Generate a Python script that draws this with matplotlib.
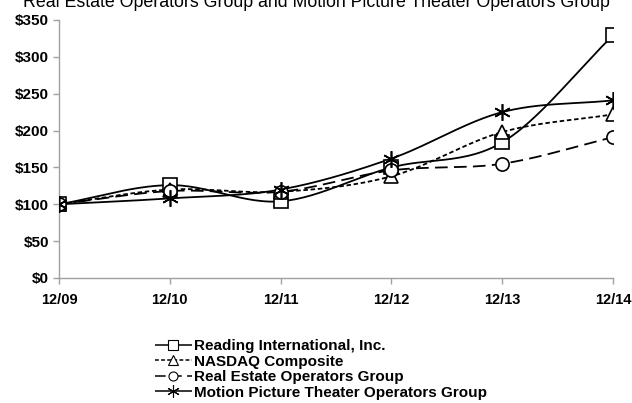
import numpy as np
import matplotlib
matplotlib.use("Agg")
import matplotlib.pyplot as plt
from matplotlib.lines import Line2D

periods = ["12/09", "12/10", "12/11", "12/12", "12/13", "12/14"]
reading = [100, 126, 104, 150, 184, 329]
nasdaq = [100, 120, 117, 138, 198, 222]
real_estate = [100, 118, 117, 146, 155, 191]
motion = [100, 108, 120, 162, 225, 241]
yticks = [0, 50, 100, 150, 200, 250, 300, 350]
title = "Real Estate Operators Group and Motion Picture Theater Operators Group"

plt.rcParams['font.family'] = ['Liberation Sans', 'DejaVu Sans']

def smooth(x, y, n=30):
    # Catmull-Rom style smoothing (as in spreadsheet "smoothed line")
    x = np.asarray(x, float); y = np.asarray(y, float)
    px = np.concatenate([[2*x[0]-x[1]], x, [2*x[-1]-x[-2]]])
    py = np.concatenate([[2*y[0]-y[1]], y, [2*y[-1]-y[-2]]])
    xs, ys = [], []
    t = np.linspace(0, 1, n)
    for i in range(1, len(px)-2):
        p0, p1, p2, p3 = [np.array([px[j], py[j]]) for j in (i-1, i, i+1, i+2)]
        m1 = (p2 - p0) / 6.0
        m2 = (p3 - p1) / 6.0
        c1 = p1 + m1; c2 = p2 - m2
        pts = ((1-t)**3)[:, None]*p1 + (3*(1-t)**2*t)[:, None]*c1 + (3*(1-t)*t**2)[:, None]*c2 + (t**3)[:, None]*p2
        xs.extend(pts[:, 0]); ys.extend(pts[:, 1])
    return np.array(xs), np.array(ys)

fig = plt.figure(figsize=(6.32, 4.03), dpi=100)
ax = fig.add_axes([59/632, 1-278/403, (613-59)/632, (278-20)/403])

x = np.arange(len(periods))
asterisk = (6, 2, 0)
series = [
    ("Reading International, Inc.", reading, 's', (0, ())),
    ("NASDAQ Composite", nasdaq, '^', (0, (2.5, 1.5))),
    ("Real Estate Operators Group", real_estate, 'o', (0, (7, 3.5))),
    ("Motion Picture Theater Operators Group", motion, asterisk, (0, ())),
]
handles = []
for name, vals, mk, dash in series:
    sx, sy = smooth(x, vals)
    ax.plot(sx, sy, color='black', lw=1.3, linestyle=dash, zorder=2)
    ax.plot(x, vals, linestyle='none', marker=mk, ms=9.5 if mk != asterisk else 12,
            mfc='white' if mk != asterisk else 'black', mec='black', mew=1.2, zorder=3)
    handles.append(Line2D([0], [0], color='black', lw=1.1, linestyle=dash, marker=mk,
                          ms=6.5 if mk != asterisk else 9, mfc='white', mec='black', mew=0.8))

ax.set_xlim(0, len(periods)-1)
ax.set_ylim(0, 350)
ax.set_xticks(x)
ax.set_xticklabels(periods, fontsize=10.5, fontweight='bold')
ax.set_yticks(yticks)
ax.set_yticklabels([f"${v}" for v in yticks], fontsize=11, fontweight='bold')
for s in ['top', 'right']:
    ax.spines[s].set_visible(False)
for s in ['left', 'bottom']:
    ax.spines[s].set_color('#a0a0a0')
    ax.spines[s].set_linewidth(1.0)
ax.tick_params(axis='both', color='#a0a0a0', length=4, width=1)
ax.tick_params(axis='x', pad=7)
ax.tick_params(axis='y', pad=3)
for lbl in ax.get_xticklabels() + ax.get_yticklabels():
    lbl.set_clip_on(False)

fig.text(0.5, 1-7/403, title, ha='center', va='baseline', fontsize=12.8)

leg = fig.legend(handles, [s[0] for s in series], loc='upper left',
                 bbox_to_anchor=(155/632, 1-339/403), frameon=False,
                 prop={'weight': 'bold', 'size': 11}, handlelength=2.4,
                 handletextpad=0.15, labelspacing=0.1, borderaxespad=0, borderpad=0)

fig.savefig("out.png", dpi=100)
